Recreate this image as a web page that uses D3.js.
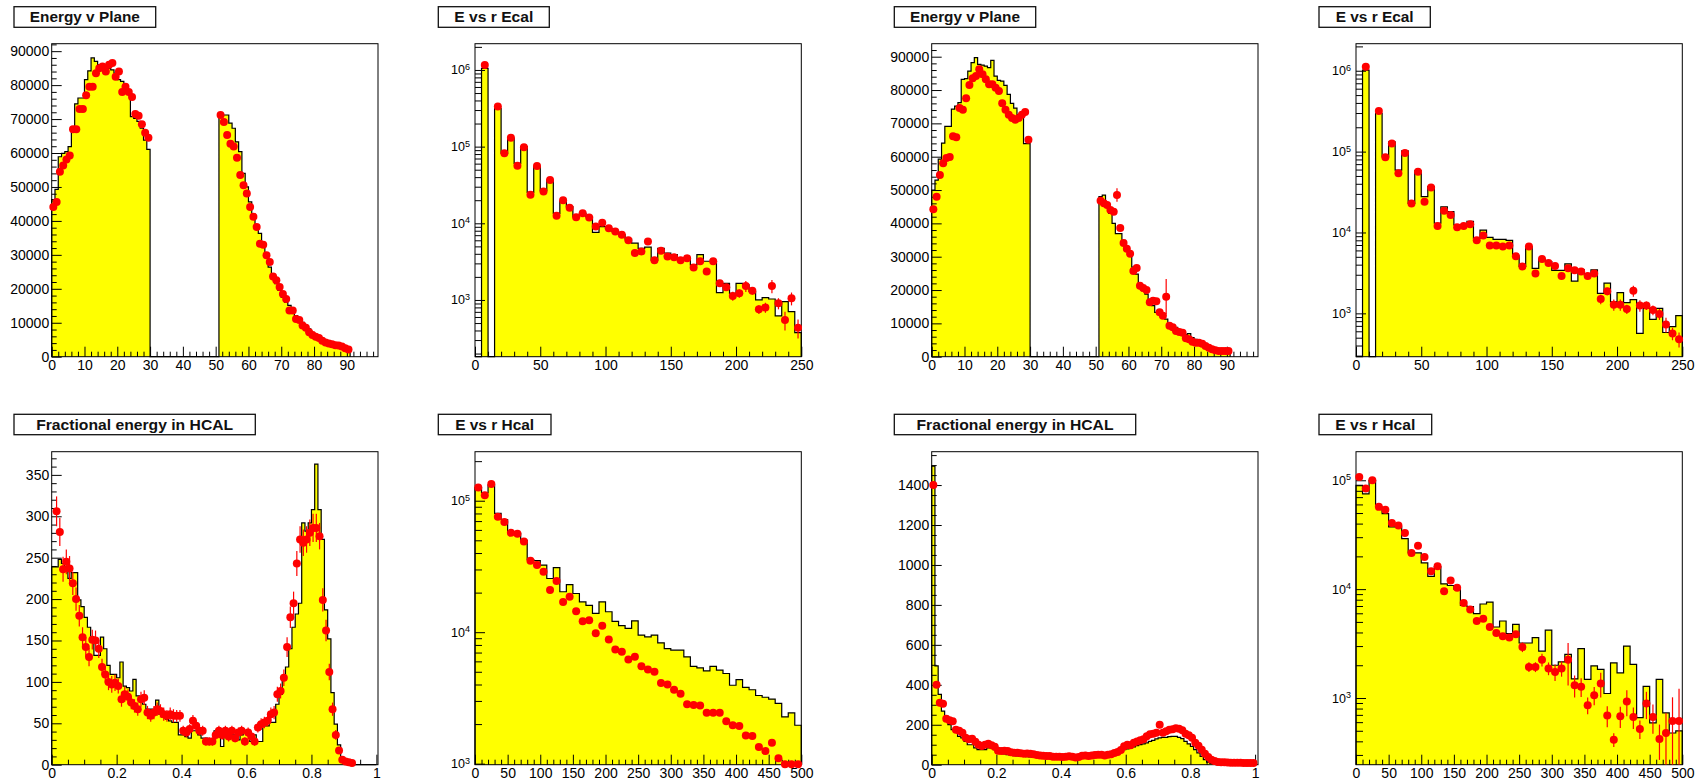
<!DOCTYPE html>
<html><head><meta charset="utf-8">
<script src="https://cdn.jsdelivr.net/npm/d3@7"></script>
<style>
html,body{margin:0;padding:0;background:#fff;}
svg{display:block;}
text{font-family:"Liberation Sans",Arial,Helvetica,sans-serif;}
</style></head><body>
<svg id="c" width="1697" height="780"></svg>
<script>
// ---------- Energy v Plane (left): planes 0-29 and 51-90 ----------
const planeLeftHistLow = [46300,49300,58900,59900,60400,61900,67300,74500,76200,76200,81600,84200,88000,87000,86000,85500,85000,85000,84500,83500,81600,81100,80100,78100,70700,70200,69300,67300,63800,61100];
const planeLeftHistHigh = [71900,71200,71200,68800,67300,63300,60400,54000,50000,45600,41700,38700,36300,33300,29400,26400,23400,21500,19500,17500,16100,15100,13600,12100,11100,10100,9200,8200,7200,6400,5900,5400,4900,4500,4200,3900,3500,3200,2700,2200];
const planeLeftPtsLow = [44100,45600,54500,56300,58100,59300,67000,67000,73000,73000,77000,79500,79500,83500,85000,85500,84000,86000,86500,82500,84000,78000,79500,78000,76500,71500,71000,68500,66000,64500];
const planeLeftPtsHigh = [71200,69100,65300,62700,61900,58600,53500,50500,48100,44100,41200,38200,33300,33000,29900,27900,23600,22500,20500,18500,17000,13600,13600,11100,10800,9200,8500,7200,6400,5900,5500,4700,4200,3900,3700,3400,3300,3000,2500,2100];

// ---------- Energy v Plane (right) ----------
const planeRightHistLow = [50000,53000,59300,64100,69100,69100,74300,75200,76200,83200,83400,85700,88200,89700,87700,87500,87200,86700,88900,84200,82900,82700,81400,78700,76000,74600,72600,72600,63900,63900];
const planeRightHistHigh = [48000,48500,45000,43000,40000,36900,36900,34900,32400,30900,26900,24800,21800,19800,18800,16800,15300,13300,13800,12300,11300,10000,9300,8800,7700,7200,6700,6900,5700,5200,4700,4200,3700,3200,2700,2200,1700,1700,1500,1400];
const planeRightPtsLow = [44200,48000,54500,58000,59600,59900,66100,65800,74600,74100,77500,81500,83500,84200,86200,84700,83200,81700,81700,80700,79700,76000,74100,72600,71600,71100,71600,72600,73400,65100];
const planeRightPtsHigh = [46800,46000,45500,44000,43500,48500,38600,34100,32400,30900,25700,26600,21300,20600,20000,16300,16800,16600,13300,12300,18000,9300,8800,7700,7400,7200,5500,5200,4500,4200,4200,3900,3200,2700,2200,1900,1700,1700,1700,1700];
const planeRightErrHigh = [0,0,0,0,0,2000,0,0,0,0,0,0,0,0,0,0,0,0,0,0,5300,0,0,0,0,0,0,0,0,0,0,0,0,0,0,0,0,0,0,0];

// ---------- E vs r Ecal, 5-unit bins ----------
const ecalLeftHist = [0,1.05e6,0,3.16e5,8.2e4,1.28e5,6.06e4,1.0e5,2.53e4,5.5e4,2.67e4,3.67e4,1.35e4,1.92e4,1.65e4,1.22e4,1.35e4,1.22e4,7.6e3,9.05e3,8.6e3,7.8e3,7.1e3,6.2e3,5.5e3,4.7e3,4.9e3,3.3e3,4.7e3,4.1e3,3.9e3,3.5e3,3.55e3,2.87e3,3.9e3,3.2e3,3.2e3,1.25e3,1.65e3,1.22e3,1.65e3,1.58e3,1.29e3,1.0e3,1.07e3,1.03e3,6.2e2,9.5e2,7.05e2,3.75e2];
const ecalLeftPts = [null,1.16e6,null,3.33e5,8.2e4,1.31e5,5.65e4,9.8e4,2.35e4,5.6e4,2.6e4,3.67e4,1.25e4,2.0e4,1.6e4,1.2e4,1.35e4,1.19e4,9.05e3,1.02e4,8.6e3,7.8e3,7.1e3,6.0e3,4.1e3,4.3e3,5.8e3,3.3e3,4.4e3,3.7e3,3.6e3,3.3e3,3.5e3,2.65e3,3.2e3,2.35e3,3.2e3,1.65e3,1.46e3,1.13e3,1.22e3,1.52e3,1.32e3,7.55e2,8.0e2,1.52e3,9.05e2,5.5e2,1.05e3,4.35e2];
const ecalLeftErr = [0,0,0,0,0,0,0,0,0,0,0,0,0,0,0,0,0,0,0,0,0,0,0,0,0,0,0,0,0,0,0,0,0,0,0,0,0,150,150,150,150,250,150,100,120,300,150,150,200,120];

const ecalRightHist = [0,1.02e6,0,2.97e5,8.65e4,1.32e5,5.9e4,1.02e5,2.29e4,5.8e4,2.77e4,3.68e4,1.3e4,2.08e4,1.81e4,1.24e4,1.24e4,1.37e4,8.45e3,1.07e4,8.7e3,8.2e3,8.2e3,8.0e3,5.1e3,3.8e3,6.7e3,3.6e3,4.65e3,4.35e3,3.4e3,3.4e3,4.1e3,2.5e3,3.45e3,2.97e3,3.45e3,1.77e3,2.36e3,1.39e3,1.8e3,1.36e3,1.48e3,5.65e2,1.15e3,8.4e2,1.15e3,5.8e2,6.85e2,9.35e2];
const ecalRightPts = [null,1.12e6,null,3.18e5,8.5e4,1.26e5,5.4e4,9.6e4,2.29e4,5.65e4,2.4e4,3.6e4,1.2e4,1.85e4,1.65e4,1.16e4,1.2e4,1.26e4,8.0e3,9.2e3,6.9e3,6.9e3,6.7e3,6.9e3,5.1e3,3.8e3,6.7e3,3.1e3,4.7e3,4.2e3,3.85e3,2.9e3,3.6e3,3.4e3,3.3e3,2.9e3,3.1e3,1.5e3,1.87e3,1.28e3,1.28e3,1.13e3,1.9e3,1.25e3,1.25e3,1.1e3,9.8e2,7.3e2,5.65e2,4.78e2];
const ecalRightErr = [0,0,0,0,0,0,0,0,0,0,0,0,0,0,0,0,0,0,0,0,0,0,0,0,0,0,0,0,0,0,0,0,0,0,0,0,0,200,200,200,200,150,300,200,150,150,150,150,100,100];

// ---------- Fractional energy in HCAL, 0.01 bins ----------
const fracLeftHist = [239,239,248,243,239,225,232,232,199,191,178,166,150,132,132,154,140,120,109,109,105,124,95,93,89,103,83,77,73,67,67,63,78,61,57,55,53,51,51,36,36,34,32,41,41,36,32,32,28,28,41,36,22,34,34,36,36,30,36,41,39,28,36,28,28,47,47,51,51,73,85,105,118,140,166,182,195,292,282,292,308,363,308,272,187,152,87,49,24,7,6,5,4,0,0,0,0,0,0,0];
const fracLeftPts = [null,306,281,236,245,237,219,200,180,154,142,130,151,150,140,118,109,100,97,99,95,79,85,82,75,71,67,79,81,63,59,63,67,65,61,59,61,59,59,59,41,39,43,53,47,41,41,28,28,28,36,41,36,41,34,41,32,39,41,28,39,34,28,45,49,51,53,61,63,85,89,105,142,178,195,243,272,268,272,280,286,286,276,199,162,112,67,36,17,6,4,3,2,null,null,null,null,null,null,null];
const fracLeftErr = [0,18,17,15,15,15,14,14,13,12,12,11,12,12,11,10,10,10,10,10,9,9,9,9,8,8,8,9,9,8,7,8,8,8,8,7,8,8,7,7,6,6,6,7,7,6,6,5,5,5,6,6,6,6,6,6,5,6,6,5,6,5,5,6,7,7,7,8,8,9,9,10,12,13,14,15,16,16,16,16,17,17,16,14,13,10,8,6,4,2,2,2,1,0,0,0,0,0,0,0];

const fracRightHist = [1495,495,352,268,243,201,176,176,142,134,117,100,100,84,75,75,75,84,84,75,67,59,54,50,47,45,44,42,42,40,39,37,37,35,35,34,34,34,34,32,32,32,32,32,32,32,34,34,35,37,37,39,40,42,45,50,54,59,67,75,79,84,89,96,101,104,109,117,122,129,134,137,137,141,142,142,137,131,117,104,92,75,59,42,25,13,7,3,0,0,0,0,0,0,0,0,0,0,0,0];
const fracRightPts = [1400,400,310,305,230,222,218,175,170,160,135,128,130,115,100,93,100,105,98,90,70,68,70,68,62,60,60,57,55,56,55,52,48,46,45,44,43,40,40,40,38,40,42,40,36,38,45,46,43,46,48,50,50,46,50,52,58,64,74,92,100,97,110,116,122,128,143,152,155,160,200,160,168,175,178,182,180,172,155,148,135,110,95,75,55,38,25,18,14,12,12,11,10,10,10,10,9,9,9,9];

// ---------- E vs r Hcal, 10-unit bins ----------
const hcalLeftHist = [1.26e5,1.15e5,1.32e5,8.0e4,7.2e4,5.8e4,5.65e4,5.0e4,3.57e4,3.5e4,3.24e4,2.56e4,3.1e4,2.03e4,2.3e4,1.97e4,1.7e4,1.6e4,1.39e4,1.7e4,1.43e4,1.21e4,1.12e4,1.07e4,1.22e4,9.5e3,9.2e3,9.5e3,8.3e3,7.5e3,7.3e3,7.3e3,6.5e3,5.5e3,5.35e3,5.08e3,5.5e3,5.15e3,4.85e3,3.95e3,4.35e3,3.8e3,3.65e3,3.3e3,3.2e3,3.1e3,2.87e3,2.27e3,2.43e3,1.96e3];
const hcalLeftPts = [1.26e5,1.1e5,1.34e5,7.55e4,6.9e4,5.7e4,5.6e4,4.9e4,3.5e4,3.24e4,2.88e4,2.09e4,2.45e4,1.7e4,1.86e4,1.44e4,1.21e4,1.23e4,9.8e3,1.12e4,8.8e3,7.4e3,7.1e3,6.2e3,6.5e3,5.5e3,5.2e3,5.0e3,4.1e3,4.0e3,3.65e3,3.4e3,2.83e3,2.8e3,2.77e3,2.44e3,2.44e3,2.44e3,2.1e3,1.96e3,1.93e3,1.64e3,1.62e3,1.34e3,1.25e3,1.44e3,1.1e3,9.9e2,9.9e2,9.9e2];

const hcalRightHist = [9.0e4,7.5e4,1.0e5,5.7e4,4.94e4,3.73e4,3.73e4,2.91e4,2.15e4,2.15e4,1.74e4,1.31e4,1.6e4,1.12e4,1.08e4,1.0e4,7.1e3,6.9e3,5.95e3,7.3e3,7.6e3,4.49e3,5.1e3,3.9e3,4.75e3,3.2e3,3.2e3,3.58e3,2.7e3,4.2e3,2.0e3,2.15e3,2.52e3,1.5e3,2.84e3,1.48e3,1.97e3,1.83e3,1.1e3,2.1e3,1.7e3,3.0e3,2.04e3,6.6e2,1.28e3,5.9e2,1.48e3,7.3e2,4.77e2,5.0e2];
const hcalRightPts = [1.07e5,8.4e4,1.0e5,5.7e4,5.37e4,4.05e4,3.85e4,3.28e4,2.15e4,2.5e4,1.97e4,1.46e4,1.62e4,9.55e3,1.2e4,1.03e4,7.45e3,6.5e3,5.1e3,5.35e3,4.49e3,3.95e3,3.7e3,3.6e3,3.85e3,2.94e3,1.93e3,1.93e3,2.25e3,1.87e3,1.73e3,1.87e3,2.25e3,1.31e3,1.27e3,8.6e2,1.06e3,1.36e3,6.9e2,4.14e2,6.8e2,9.3e2,6.7e2,5.2e2,8.9e2,6.7e2,4.2e2,4.77e2,6.15e2,6.15e2];
const hcalRightErr = [0,0,0,0,0,0,0,0,0,0,0,0,0,0,0,0,0,0,0,0,0,0,0,0,0,300,200,200,300,250,300,300,950,300,250,150,200,350,150,60,150,250,150,100,250,200,150,250,400,600];

// ---------- plane histograms: gap between plane 30 and plane 51 ----------
const GAP_FIRST = 30, HIGH_FIRST = 51;
function joinPlanes(low, high, fill) {
  const out = low.slice();
  for (let i = GAP_FIRST; i < HIGH_FIRST; i++) out.push(fill);
  return out.concat(high);
}
function zeros(n) { return new Array(n).fill(0); }

// ---------- layout ----------
const frameX = [51.7, 475, 931.7, 1356];
const frameY = [43.7, 451.7];
const frameW = 326.3, frameH = 313;
const titleY = [[6.7, 27.3], [414.3, 434.7]];
const YELLOW = '#ffff00', RED = '#ff0000';

const panels = [
  { col: 0, row: 0, title: 'Energy v Plane', box: [14, 155.7], tw: 110,
    xDomain: [0, 99.5], yDomain: [0, 92200], log: false, binW: 1,
    hist: joinPlanes(planeLeftHistLow, planeLeftHistHigh, 0),
    pts: joinPlanes(planeLeftPtsLow, planeLeftPtsHigh, null), err: null,
    xMajor: 10, xSub: 5, yMajor: 10000, ySub: 5 },
  { col: 1, row: 0, title: 'E vs r Ecal', box: [438.3, 549.3], tw: 79,
    xDomain: [0, 250], yDomain: [182, 2.2e6], log: true, binW: 5,
    hist: ecalLeftHist, pts: ecalLeftPts, err: ecalLeftErr, xMajor: 50, xSub: 5 },
  { col: 2, row: 0, title: 'Energy v Plane', box: [894.3, 1035.7], tw: 110,
    xDomain: [0, 99.5], yDomain: [0, 93900], log: false, binW: 1,
    hist: joinPlanes(planeRightHistLow, planeRightHistHigh, 0),
    pts: joinPlanes(planeRightPtsLow, planeRightPtsHigh, null),
    err: joinPlanes(zeros(30), planeRightErrHigh, 0),
    xMajor: 10, xSub: 5, yMajor: 10000, ySub: 5 },
  { col: 3, row: 0, title: 'E vs r Ecal', box: [1319, 1430.3], tw: 78,
    xDomain: [0, 250], yDomain: [291, 2.16e6], log: true, binW: 5,
    hist: ecalRightHist, pts: ecalRightPts, err: ecalRightErr, xMajor: 50, xSub: 5 },
  { col: 0, row: 1, title: 'Fractional energy in HCAL', box: [14, 255.3], tw: 197,
    xDomain: [0, 1.005], yDomain: [0, 378], log: false, binW: 0.01,
    hist: fracLeftHist, pts: fracLeftPts, err: fracLeftErr,
    xMajor: 0.2, xSub: 4, yMajor: 50, ySub: 5 },
  { col: 1, row: 1, title: 'E vs r Hcal', box: [438.3, 551], tw: 79,
    xDomain: [0, 500], yDomain: [982, 2.36e5], log: true, binW: 10,
    hist: hcalLeftHist, pts: hcalLeftPts, err: null, xMajor: 50, xSub: 5 },
  { col: 2, row: 1, title: 'Fractional energy in HCAL', box: [894.3, 1135.7], tw: 197,
    xDomain: [0, 1.009], yDomain: [0, 1567], log: false, binW: 0.01,
    hist: fracRightHist, pts: fracRightPts, err: null,
    xMajor: 0.2, xSub: 4, yMajor: 200, ySub: 4 },
  { col: 3, row: 1, title: 'E vs r Hcal', box: [1319, 1431.7], tw: 80,
    xDomain: [0, 500], yDomain: [244, 1.83e5], log: true, binW: 10,
    hist: hcalRightHist, pts: hcalRightPts, err: hcalRightErr, xMajor: 50, xSub: 5 }
];

const svg = d3.select('#c');
svg.append('rect').attr('width', 1697).attr('height', 780).attr('fill', '#fff');

function linearTicks(max, major, sub) {
  const step = major / sub, maj = [], min = [];
  for (let i = 0; i * step <= max + 1e-9; i++) {
    const v = +(i * step).toFixed(6);
    (i % sub === 0 ? maj : min).push(v);
  }
  return { maj, min };
}
function logTicks(lo, hi) {
  const maj = [], min = [];
  for (let d = Math.floor(Math.log10(lo)); d <= Math.ceil(Math.log10(hi)); d++) {
    for (let m = 1; m <= 9; m++) {
      const v = m * Math.pow(10, d);
      if (v < lo || v > hi) continue;
      (m === 1 ? maj : min).push(v);
    }
  }
  return { maj, min };
}
const fmt = d3.format('~g');

function drawPanel(p) {
  const x0 = frameX[p.col], y0 = frameY[p.row], base = y0 + frameH;
  const x = d3.scaleLinear().domain(p.xDomain).range([x0, x0 + frameW]);
  const y = (p.log ? d3.scaleLog() : d3.scaleLinear()).domain(p.yDomain).range([base, y0]);
  const yc = v => (v == null || v <= 0 || v <= p.yDomain[0]) ? base : Math.max(y0, y(v));
  const g = svg.append('g');

  // title box
  const [ty0, ty1] = titleY[p.row];
  g.append('rect').attr('x', p.box[0]).attr('y', ty0)
    .attr('width', p.box[1] - p.box[0]).attr('height', ty1 - ty0)
    .attr('fill', '#fff').attr('stroke', '#111').attr('stroke-width', 1.3);
  g.append('text').attr('x', (p.box[0] + p.box[1]) / 2).attr('y', (ty0 + ty1) / 2 + 5)
    .attr('text-anchor', 'middle').attr('font-weight', 'bold').attr('font-size', 14)
    .attr('textLength', p.tw).attr('lengthAdjust', 'spacingAndGlyphs')
    .attr('fill', '#111').text(p.title);

  // histogram (filled steps)
  const n = p.hist.length;
  const steps = [[x(0), base]];
  p.hist.forEach((v, i) => {
    const yy = yc(v);
    steps.push([x(i * p.binW), yy], [x((i + 1) * p.binW), yy]);
  });
  steps.push([x(n * p.binW), base]);
  const line = d3.line();
  g.append('path').attr('d', line(steps) + 'Z').attr('fill', YELLOW).attr('stroke', 'none');
  g.append('path').attr('d', line(steps)).attr('fill', 'none')
    .attr('stroke', '#000').attr('stroke-width', 1.2);

  // frame
  g.append('rect').attr('x', x0).attr('y', y0).attr('width', frameW).attr('height', frameH)
    .attr('fill', 'none').attr('stroke', '#000').attr('stroke-width', 1);

  // x axis
  const xt = linearTicks(p.xDomain[1], p.xMajor, p.xSub);
  const gx = g.append('g').attr('transform', `translate(0,${base})`);
  gx.call(d3.axisBottom(x).tickValues(xt.min).tickSizeInner(-5).tickSizeOuter(0).tickFormat(() => ''));
  const gxm = g.append('g').attr('transform', `translate(0,${base})`);
  gxm.call(d3.axisBottom(x).tickValues(xt.maj).tickSizeInner(-10).tickSizeOuter(0)
    .tickPadding(3).tickFormat(fmt));
  [gx, gxm].forEach(a => {
    a.select('.domain').remove();
    a.attr('font-size', 14).attr('font-family', '"Liberation Sans",Arial,sans-serif').attr('color', '#000');
  });

  // y axis
  const yt = p.log ? logTicks(p.yDomain[0], p.yDomain[1]) : linearTicks(p.yDomain[1], p.yMajor, p.ySub);
  const gy = g.append('g').attr('transform', `translate(${x0},0)`);
  gy.call(d3.axisLeft(y).tickValues(yt.min).tickSizeInner(p.log ? -7 : -5).tickSizeOuter(0).tickFormat(() => ''));
  const gym = g.append('g').attr('transform', `translate(${x0},0)`);
  gym.call(d3.axisLeft(y).tickValues(yt.maj).tickSizeInner(-10).tickSizeOuter(0)
    .tickPadding(p.log ? 5 : 2.5).tickFormat(fmt));
  [gy, gym].forEach(a => {
    a.select('.domain').remove();
    a.attr('font-size', 14).attr('font-family', '"Liberation Sans",Arial,sans-serif').attr('color', '#000');
  });
  if (p.log) {
    gym.selectAll('.tick text').each(function (d) {
      const t = d3.select(this);
      t.text('10').attr('font-size', 12.5);
      t.append('tspan').attr('dy', '-0.5em').attr('font-size', 9)
        .text(Math.round(Math.log10(d)));
    });
  }

  // data points with error bars
  const gp = g.append('g');
  p.pts.forEach((v, i) => {
    if (v == null) return;
    const cx = x((i + 0.5) * p.binW);
    const cy = Math.min(base, y(v));
    gp.append('line').attr('x1', x(i * p.binW)).attr('x2', x((i + 1) * p.binW))
      .attr('y1', cy).attr('y2', cy).attr('stroke', RED).attr('stroke-width', 1.2);
    const e = p.err ? p.err[i] : 0;
    if (e > 0) {
      gp.append('line').attr('x1', cx).attr('x2', cx)
        .attr('y1', yc(v - e)).attr('y2', yc(v + e))
        .attr('stroke', RED).attr('stroke-width', 1.2);
    }
    gp.append('circle').attr('cx', cx).attr('cy', cy).attr('r', 4).attr('fill', RED);
  });
}

panels.forEach(drawPanel);
</script>
</body></html>
